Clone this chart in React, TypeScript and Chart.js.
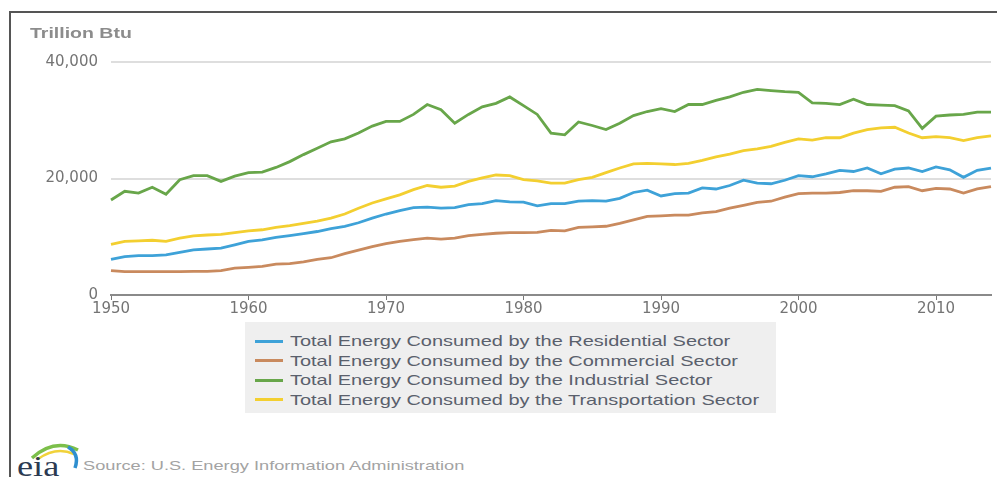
import React, { useEffect, useRef } from "react";
import { Chart, registerables } from "chart.js";

Chart.register(...registerables);

const YEARS = [
  "1950", "1951", "1952", "1953", "1954", "1955", "1956", "1957", "1958", "1959",
  "1960", "1961", "1962", "1963", "1964", "1965", "1966", "1967", "1968", "1969",
  "1970", "1971", "1972", "1973", "1974", "1975", "1976", "1977", "1978", "1979",
  "1980", "1981", "1982", "1983", "1984", "1985", "1986", "1987", "1988", "1989",
  "1990", "1991", "1992", "1993", "1994", "1995", "1996", "1997", "1998", "1999",
  "2000", "2001", "2002", "2003", "2004", "2005", "2006", "2007", "2008", "2009",
  "2010", "2011", "2012", "2013", "2014",
];

const RESIDENTIAL = [
  6100, 6600, 6750, 6750, 6900, 7300, 7750, 7900, 8050, 8600,
  9200, 9450, 9900, 10200, 10550, 10900, 11400, 11800, 12400, 13200,
  13900, 14500, 15000, 15100, 14900, 15000, 15500, 15700, 16200, 16000,
  15950, 15300, 15700, 15700, 16100, 16200, 16100, 16600, 17600, 18000,
  17000, 17400, 17500, 18400, 18200, 18800, 19700, 19200, 19100, 19700,
  20500, 20300, 20800, 21400, 21200, 21800, 20800, 21600, 21800, 21200,
  22000, 21500, 20200, 21400, 21800,
];

const COMMERCIAL = [
  4200, 4000, 4000, 4000, 4000, 4000, 4050, 4050, 4200, 4600,
  4750, 4900, 5300, 5400, 5700, 6100, 6400, 7100, 7700, 8300,
  8800, 9200, 9500, 9750, 9600, 9750, 10200, 10400, 10600, 10700,
  10700, 10750, 11100, 11000, 11600, 11700, 11800, 12300, 12900, 13500,
  13600, 13700, 13700, 14100, 14300, 14900, 15400, 15900, 16100, 16800,
  17400, 17500, 17500, 17600, 17900, 17900, 17800, 18500, 18600, 17900,
  18300, 18200, 17500, 18200, 18600,
];

const INDUSTRIAL = [
  16300, 17800, 17500, 18500, 17300, 19800, 20500, 20500, 19500, 20400,
  21000, 21100, 21900, 22900, 24100, 25200, 26300, 26800, 27800, 29000,
  29800, 29800, 31000, 32700, 31800, 29500, 31000, 32300, 32900, 34000,
  32500, 31000, 27800, 27500, 29700, 29100, 28400, 29500, 30800, 31500,
  32000, 31500, 32700, 32700, 33400, 34000, 34800, 35300, 35100, 34900,
  34800, 33000, 32900, 32700, 33600, 32700, 32600, 32500, 31600, 28600,
  30700, 30900, 31000, 31400, 31400,
];

const TRANSPORTATION = [
  8700, 9200, 9300, 9400, 9200, 9750, 10150, 10300, 10400, 10700,
  11000, 11200, 11600, 11900, 12300, 12700, 13200, 13900, 14900, 15800,
  16500, 17200, 18100, 18800, 18500, 18700, 19500, 20100, 20600, 20500,
  19800, 19600, 19200, 19200, 19800, 20200, 21000, 21800, 22500, 22600,
  22500, 22400, 22600, 23100, 23700, 24200, 24800, 25100, 25500, 26200,
  26800, 26600, 27000, 27000, 27800, 28400, 28700, 28800, 27800, 27000,
  27200, 27000, 26500, 27000, 27300,
];

const SERIES_NAMES = [
  "Total Energy Consumed by the Residential Sector",
  "Total Energy Consumed by the Commercial Sector",
  "Total Energy Consumed by the Industrial Sector",
  "Total Energy Consumed by the Transportation Sector",
];

const SERIES_COLORS = ["#3ea2d8", "#c98a5e", "#68a64a", "#f3cf30"];

const X_TICKS = ["1950", "1960", "1970", "1980", "1990", "2000", "2010"];
const Y_TICKS = [0, 20000, 40000];
const Y_MAX = 40000;

const UNIT_LABEL = "Trillion Btu";
const SOURCE_TEXT = "Source: U.S. Energy Information Administration";

export default function App() {
  const canvasRef = useRef<HTMLCanvasElement | null>(null);

  useEffect(() => {
    if (!canvasRef.current) return;
    const seriesValues = [RESIDENTIAL, COMMERCIAL, INDUSTRIAL, TRANSPORTATION];
    const chart = new Chart(canvasRef.current, {
      type: "line",
      data: {
        labels: YEARS,
        datasets: SERIES_NAMES.map((name, i) => ({
          label: name,
          data: seriesValues[i],
          borderColor: SERIES_COLORS[i],
          backgroundColor: SERIES_COLORS[i],
          borderWidth: 2.8,
          pointRadius: 0,
          tension: 0,
          fill: false,
        })),
      },
      options: {
        animation: false,
        responsive: false,
        maintainAspectRatio: false,
        layout: { padding: { top: 62, right: 6, bottom: 6, left: 0 } },
        plugins: {
          legend: { display: false },
          tooltip: { enabled: false },
        },
        scales: {
          x: {
            type: "category",
            offset: false,
            grid: {
              display: true,
              drawOnChartArea: false,
              drawTicks: true,
              tickLength: 5,
              color: "#777777",
              lineWidth: 1,
            },
            border: { display: true, color: "#8a8a8a", width: 2 },
            ticks: {
              autoSkip: false,
              maxRotation: 0,
              minRotation: 0,
              padding: 0,
              color: "#747474",
              font: { family: "DejaVu Sans", size: 15 },
              callback: (_v: any, i: number) => {
                const l = YEARS[i];
                return X_TICKS.includes(l) ? l : null;
              },
            },
            afterFit: (s: any) => {
              s.height = 30;
            },
          },
          y: {
            min: 0,
            max: Y_MAX,
            afterBuildTicks: (s: any) => {
              s.ticks = Y_TICKS.map((v) => ({ value: v }));
            },
            grid: {
              drawTicks: false,
              color: (ctx: any) =>
                ctx.tick && ctx.tick.value === 0 ? "rgba(0,0,0,0)" : "#dedede",
              lineWidth: 2,
            },
            border: { display: false },
            ticks: {
              padding: 13,
              color: "#747474",
              font: { family: "DejaVu Sans", size: 15 },
              callback: (v: any) => Number(v).toLocaleString("en-US"),
            },
            afterFit: (s: any) => {
              s.width = 111;
            },
          },
        },
      },
    });
    return () => chart.destroy();
  }, []);

  const legendRowTops = [331, 350.5, 370, 389.5];

  return (
    <div
      style={{
        position: "absolute",
        left: 0,
        top: 0,
        width: 997,
        height: 477,
        overflow: "hidden",
        background: "#ffffff",
      }}
    >
      {/* frame */}
      <div
        style={{
          position: "absolute",
          left: 9,
          top: 11,
          width: 1000,
          height: 480,
          borderLeft: "2px solid #555",
          borderTop: "2px solid #555",
          boxSizing: "border-box",
        }}
      />
      <canvas
        ref={canvasRef}
        width={997}
        height={331}
        style={{ position: "absolute", left: 0, top: 0, width: 997, height: 331 }}
      />
      {/* unit label */}
      <div
        style={{
          position: "absolute",
          left: 30,
          top: 25,
          fontFamily: "'Liberation Sans', Arial, sans-serif",
          fontWeight: 700,
          fontSize: 15,
          lineHeight: "15px",
          color: "#8c8c8c",
          whiteSpace: "nowrap",
          transform: "scaleX(1.3)",
          transformOrigin: "0 0",
        }}
      >
        {UNIT_LABEL}
      </div>
      {/* legend */}
      <div
        style={{
          position: "absolute",
          left: 245,
          top: 322,
          width: 531,
          height: 91,
          background: "#efefef",
        }}
      />
      {SERIES_NAMES.map((name, i) => (
        <React.Fragment key={name}>
          <div
            style={{
              position: "absolute",
              left: 255,
              top: legendRowTops[i] + 8.5,
              width: 28,
              height: 3,
              background: SERIES_COLORS[i],
            }}
          />
          <div
            style={{
              position: "absolute",
              left: 290,
              top: legendRowTops[i] + 2,
              fontFamily: "'Liberation Sans', Arial, sans-serif",
              fontSize: 15,
              lineHeight: "15px",
              color: "#5a606c",
              whiteSpace: "nowrap",
              transform: "scaleX(1.33)",
              transformOrigin: "0 0",
            }}
          >
            {name}
          </div>
        </React.Fragment>
      ))}
      {/* eia logo */}
      <svg
        style={{ position: "absolute", left: 12, top: 436 }}
        width={72}
        height={41}
        viewBox="0 0 72 41"
      >
        <path d="M20 22 Q42 2 66 14" stroke="#7cbf4a" strokeWidth={3.5} fill="none" />
        <path d="M26 23 Q44 10 62 18" stroke="#f1d23a" strokeWidth={2.5} fill="none" />
        <path d="M56 11 Q68 18 63 32" stroke="#2f8fcf" strokeWidth={3.5} fill="none" />
        <text
          x={4}
          y={40}
          fontFamily="'Liberation Serif', 'DejaVu Serif', serif"
          fontSize={29}
          fill="#2b3a52"
          transform="scale(1.25,1)"
        >
          eia
        </text>
      </svg>
      {/* source */}
      <div
        style={{
          position: "absolute",
          left: 83,
          top: 459,
          fontFamily: "'Liberation Sans', Arial, sans-serif",
          fontSize: 13,
          lineHeight: "13px",
          color: "#a3a3a3",
          whiteSpace: "nowrap",
          transform: "scaleX(1.4)",
          transformOrigin: "0 0",
        }}
      >
        {SOURCE_TEXT}
      </div>
    </div>
  );
}
